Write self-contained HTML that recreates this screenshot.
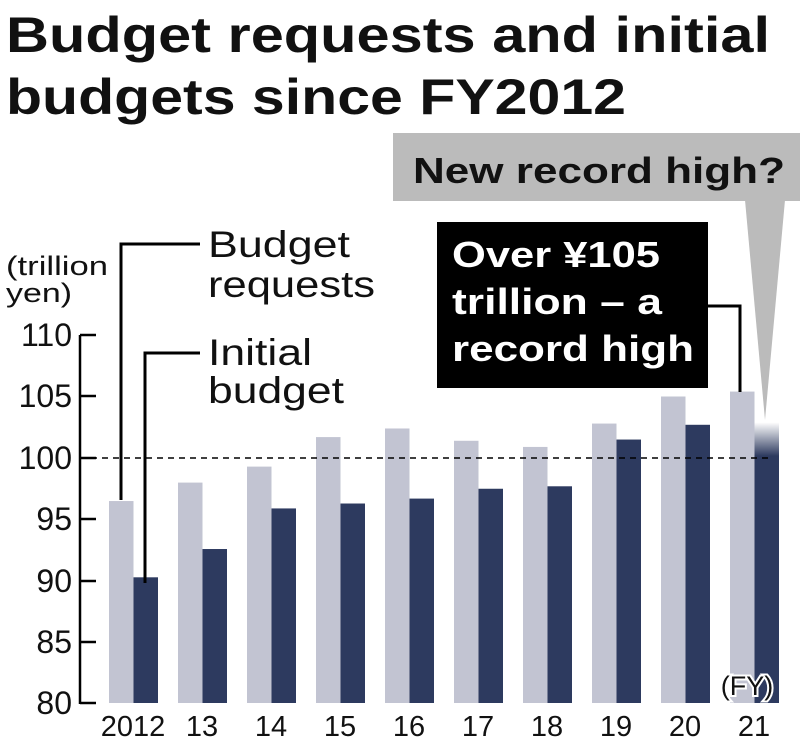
<!DOCTYPE html><html><head><style>body{margin:0;background:#fff}svg{display:block}text{font-family:"Liberation Sans",sans-serif}</style></head><body>
<svg width="800" height="747" viewBox="0 0 800 747">
<text x="6" y="52" font-size="50" font-weight="bold" fill="#111" textLength="764" lengthAdjust="spacingAndGlyphs">Budget requests and initial</text>
<text x="6" y="114" font-size="50" font-weight="bold" fill="#111" textLength="620" lengthAdjust="spacingAndGlyphs">budgets since FY2012</text>
<rect x="393" y="133" width="407" height="68" fill="#bbb"/>
<polygon points="745,200 785,200 765,420" fill="#bbb"/>
<text x="413" y="183" font-size="36" font-weight="bold" fill="#111" textLength="372" lengthAdjust="spacingAndGlyphs">New record high?</text>
<defs><linearGradient id="g" x1="0" y1="0" x2="0" y2="1"><stop offset="0" stop-color="#fff"/><stop offset="0.12" stop-color="#2d3a5f"/><stop offset="1" stop-color="#2d3a5f"/></linearGradient></defs>
<g id="bars"></g>
<line x1="80" y1="458" x2="770" y2="458" stroke="#000" stroke-width="1.5" stroke-dasharray="6,5"/>
<rect x="437" y="222" width="271" height="166" fill="#000"/>
<text x="452" y="267" font-size="36" font-weight="bold" fill="#fff" textLength="208" lengthAdjust="spacingAndGlyphs">Over ¥105</text>
<text x="452" y="314" font-size="36" font-weight="bold" fill="#fff" textLength="210" lengthAdjust="spacingAndGlyphs">trillion – a</text>
<text x="452" y="361" font-size="36" font-weight="bold" fill="#fff" textLength="242" lengthAdjust="spacingAndGlyphs">record high</text>
<polyline points="708,306 740,306 740,392" fill="none" stroke="#000" stroke-width="3"/>
<polyline points="121,500 121,244 200,244" fill="none" stroke="#000" stroke-width="3"/>
<polyline points="145,583 145,353 200,353" fill="none" stroke="#000" stroke-width="3"/>
<text x="208" y="257" font-size="37" fill="#111" textLength="142" lengthAdjust="spacingAndGlyphs">Budget</text>
<text x="208" y="297" font-size="37" fill="#111" textLength="167" lengthAdjust="spacingAndGlyphs">requests</text>
<text x="208" y="365" font-size="37" fill="#111" textLength="104" lengthAdjust="spacingAndGlyphs">Initial</text>
<text x="208" y="403" font-size="37" fill="#111" textLength="136" lengthAdjust="spacingAndGlyphs">budget</text>
<text x="6" y="275" font-size="27" fill="#111" textLength="102" lengthAdjust="spacingAndGlyphs">(trillion</text>
<text x="6" y="302" font-size="27" fill="#111" textLength="66" lengthAdjust="spacingAndGlyphs">yen)</text>
<line x1="80" y1="335" x2="80" y2="704" stroke="#000" stroke-width="2.5"/>
<g stroke="#000" stroke-width="2.5">
<line x1="80" y1="335" x2="96" y2="335"/><line x1="80" y1="396" x2="96" y2="396"/><line x1="80" y1="458" x2="96" y2="458"/><line x1="80" y1="519" x2="96" y2="519"/><line x1="80" y1="581" x2="96" y2="581"/><line x1="80" y1="642" x2="96" y2="642"/><line x1="80" y1="703" x2="96" y2="703"/></g>
<g font-size="32" fill="#111" text-anchor="end">
<text x="72" y="346">110</text><text x="72" y="407">105</text><text x="72" y="469">100</text><text x="72" y="530">95</text><text x="72" y="592">90</text><text x="72" y="653">85</text><text x="72" y="714">80</text></g>
<g font-size="29" fill="#111" text-anchor="middle">
<text x="133" y="736">2012</text><text x="202" y="736">13</text><text x="271" y="736">14</text><text x="340" y="736">15</text><text x="409" y="736">16</text><text x="478" y="736">17</text><text x="547" y="736">18</text><text x="616" y="736">19</text><text x="685" y="736">20</text><text x="754" y="736">21</text></g>
<text x="747" y="695" font-size="27" fill="#111" stroke="#fff" stroke-width="4" paint-order="stroke" text-anchor="middle">(FY)</text>
</svg>
<script>
var r=[96.5,98.0,99.3,101.7,102.4,101.4,100.9,102.8,105.0,105.4],b=[90.3,92.6,95.9,96.3,96.7,97.5,97.7,101.5,102.7,102.9];
var s='',y=v=>458-(v-100)*12.3;
for(var i=0;i<10;i++){var x=109+i*69;
s+='<rect x="'+x+'" y="'+y(r[i])+'" width="24.5" height="'+(703-y(r[i]))+'" fill="#c2c4d2"/>';
s+='<rect x="'+(x+24.5)+'" y="'+y(b[i])+'" width="24.5" height="'+(703-y(b[i]))+'" fill="'+(i==9?'url(#g)':'#2d3a5f')+'"/>';}
document.getElementById('bars').innerHTML=s;
</script>
</body></html>
